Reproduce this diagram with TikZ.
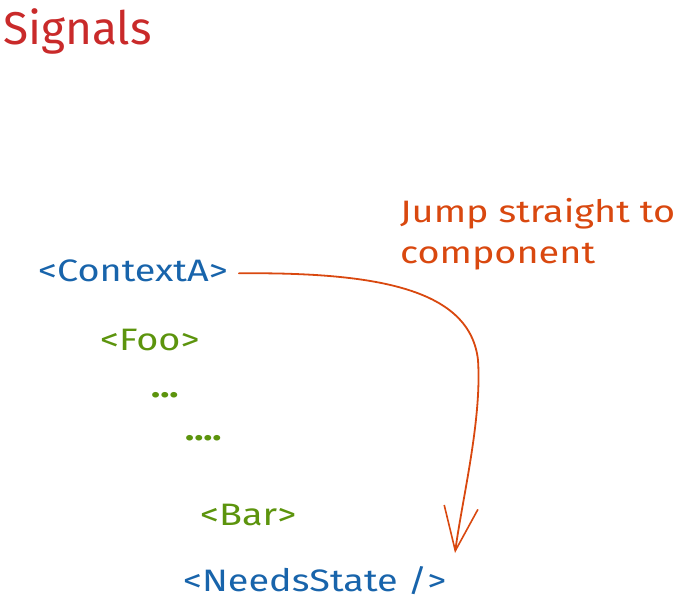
\documentclass[tikz,border=0pt]{standalone}
\usepackage{fontspec}
\setmainfont{Fira Sans}
\newfontfamily\hand{Fira Sans}[FakeStretch=1.22]
\usetikzlibrary{arrows.meta}
\definecolor{exred}{HTML}{C92A2A}
\definecolor{exblue}{HTML}{1864AB}
\definecolor{exgreen}{HTML}{5C940D}
\definecolor{exorange}{HTML}{D9480F}
\begin{document}
\begin{tikzpicture}[x=1pt,y=-1pt,
  lbl/.style={inner sep=0pt, anchor=base west},
  title/.style={lbl, text=exred, font=\fontsize{46}{50}\selectfont},
  comp/.style={lbl, text=exblue, font=\hand\fontsize{31}{34}\selectfont},
  child/.style={lbl, text=exgreen, font=\hand\fontsize{31}{34}\selectfont},
  dots/.style={lbl, text=exgreen, font=\hand\bfseries\fontsize{31}{34}\selectfont},
  note/.style={lbl, text=exorange, font=\hand\fontsize{31}{34}\selectfont},
  jump/.style={draw=exorange, line width=1.8pt, line cap=round, -{Straight Barb[length=44pt,width=34pt,line width=1.6pt]}}]
\useasboundingbox (0,0) rectangle (682,599);
\node[title] (sig) at (3,45) {Signals};
\node[comp] (ctx) at (38,281) {<ContextA>};
\node[child] (foo) at (100,350) {<Foo>};
\node[dots] (d3) at (151,397) {...};
\node[dots] (d4) at (185,440) {....};
\node[child] (bar) at (200,525) {<Bar>};
\node[comp] (needs) at (183,591) {<NeedsState />};
\node[note] (n1) at (400,222) {Jump straight to};
\node[note] (n2) at (400,263) {component};
\coordinate (start) at ([xshift=11pt,yshift=-3pt]ctx.east);
\coordinate (tip) at (455,553);
\draw[jump] (start) .. controls (380,272) and (470,290) .. (478,360) .. controls (482,420) and (462,500) .. (tip);
\end{tikzpicture}
\end{document}
